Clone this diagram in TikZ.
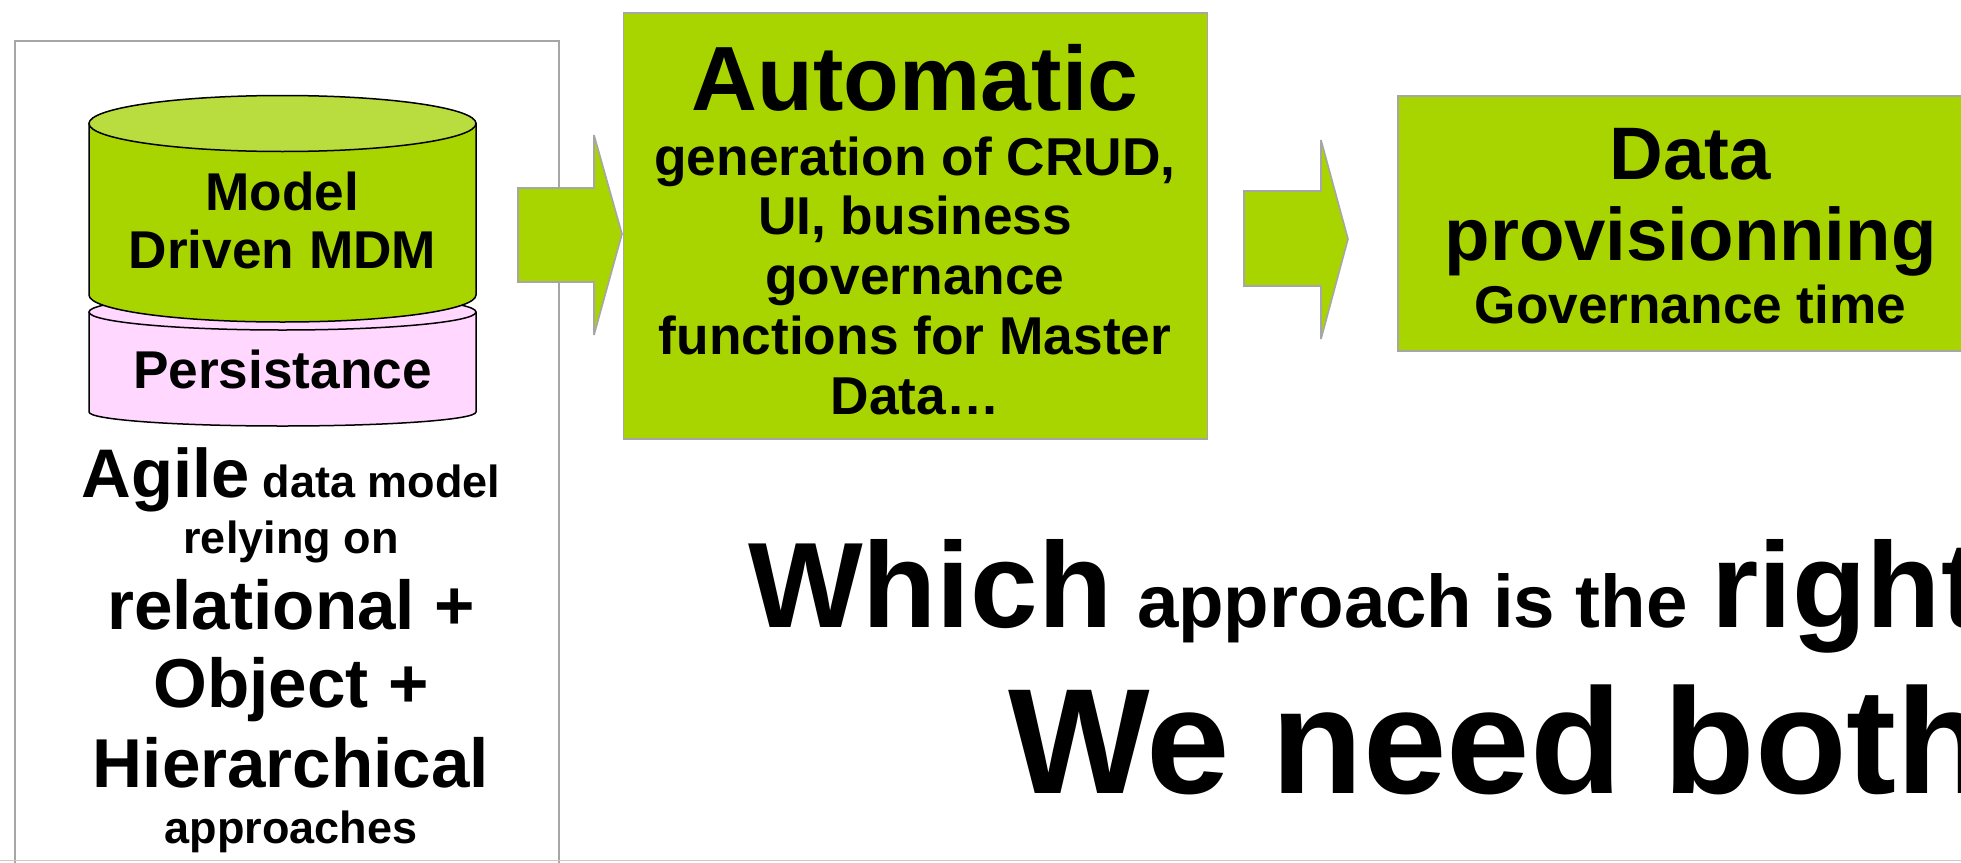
\documentclass[tikz,border=0pt]{standalone}
\usepackage{fontspec}
\setmainfont{Liberation Sans}
\definecolor{leaf}{HTML}{A8D400}
\definecolor{leaflight}{HTML}{B9DC3E}
\definecolor{blush}{HTML}{FFD7FF}
\definecolor{edge}{HTML}{A6A6A6}
\newcommand{\TL}[3]{\hbox to 0pt{\hss\fontsize{#2}{#2}\selectfont\bfseries\rule{0pt}{#1pt}\raisebox{0pt}[0pt][0pt]{#3}\hss}}
\newcommand{\SZ}[1]{\fontsize{#1}{#1}\selectfont}
\newcommand{\STACK}[1]{\vbox{\offinterlineskip #1}}
\tikzset{
  x=1pt,y=-1pt,
  txt/.style={inner sep=0pt,outer sep=0pt,anchor=north},
  lone/.style={inner sep=0pt,outer sep=0pt,anchor=base west,font=\bfseries},
  block/.style={fill=leaf,draw=edge,line width=1.6pt,line join=miter},
  blockarrow/.style={block,miter limit=2},
  panel/.style={fill=white,draw=edge,line width=1.6pt},
  cyl/.style={draw=black,line width=1.5pt,line join=round}
}
\begin{document}
\begin{tikzpicture}
\useasboundingbox (0,0) rectangle (1961,862);
\clip (0,0) rectangle (1961,862);
\fill[white] (0,0) rectangle (1961,862);
% panel
\draw[panel] (15,41) rectangle (559,880);
\draw[edge!60,line width=1.5pt] (0,860.5) -- (1961,860.5);
% lower cylinder
\draw[cyl,fill=blush] (89,312) -- (89,412) .. controls (89,419.7) and (175.6,426) .. (282.5,426)
  .. controls (389.4,426) and (476,419.7) .. (476,412) -- (476,312) -- cycle;
\draw[cyl,fill=blush] (282.5,312) ellipse [x radius=193.5pt,y radius=18pt];
% upper cylinder
\draw[cyl,fill=leaf] (89,123) -- (89,295) .. controls (89,310) and (175.6,322) .. (282.5,322)
  .. controls (389.4,322) and (476,310) .. (476,295) -- (476,123) -- cycle;
\draw[cyl,fill=leaflight] (282.5,123.5) ellipse [x radius=193.5pt,y radius=28pt];
% blocks
\draw[blockarrow] (518,188) -- (594,188) -- (594,135) -- (622,234) -- (594,335) -- (594,282) -- (518,282) -- cycle;
\node[block,minimum width=584pt,minimum height=426pt,anchor=north west,inner sep=0pt] (auto) at (622.5,12) {};
\draw[blockarrow] (1244,191) -- (1321,191) -- (1321,140) -- (1348,239) -- (1321,339) -- (1321,286) -- (1244,286) -- cycle;
\node[block,minimum width=640pt,minimum height=255pt,anchor=north west,inner sep=0pt] (prov) at (1397,95) {};
% texts
\node[txt] (model) at (282.5,210) {\STACK{\TL{0}{53.2}{Model}\TL{58.5}{53.2}{Driven MDM}}};
\node[txt] (persist) at (282.5,388) {\STACK{\TL{0}{53.2}{Persistance}}};
\node[txt] (agile) at (291,497) {\STACK{\TL{0}{68.8}{Agile\SZ{45} data model}
  \TL{56}{45}{relying on}
  \TL{76}{69.2}{relational +}
  \TL{78}{69.2}{Object +}
  \TL{80}{69.2}{Hierarchical}
  \TL{56}{45}{approaches}}};
\node[txt] (autotext) at (915,110) {\STACK{\TL{0}{91.3}{Automatic}
  \TL{65}{53.3}{generation of CRUD,}
  \TL{59}{53.3}{UI, business}
  \TL{60}{53.3}{governance}
  \TL{60}{53.3}{functions for Master}
  \TL{60}{53.3}{Data…}}};
\node[txt] (provtext) at (1690.5,179) {\STACK{\TL{0}{74.4}{Data}
  \TL{81}{74.4}{provisionning}
  \TL{63}{53.2}{Governance time}}};
\node[lone] (which) at (748,627) {\fontsize{121.5}{121.5}\selectfont Which\hspace{24.6pt}\SZ{74.5}approach is the\hspace{24pt}\SZ{121.5}right};
\node[lone] (both) at (1008,793) {\fontsize{150}{150}\selectfont We need both};
\end{tikzpicture}
\end{document}
